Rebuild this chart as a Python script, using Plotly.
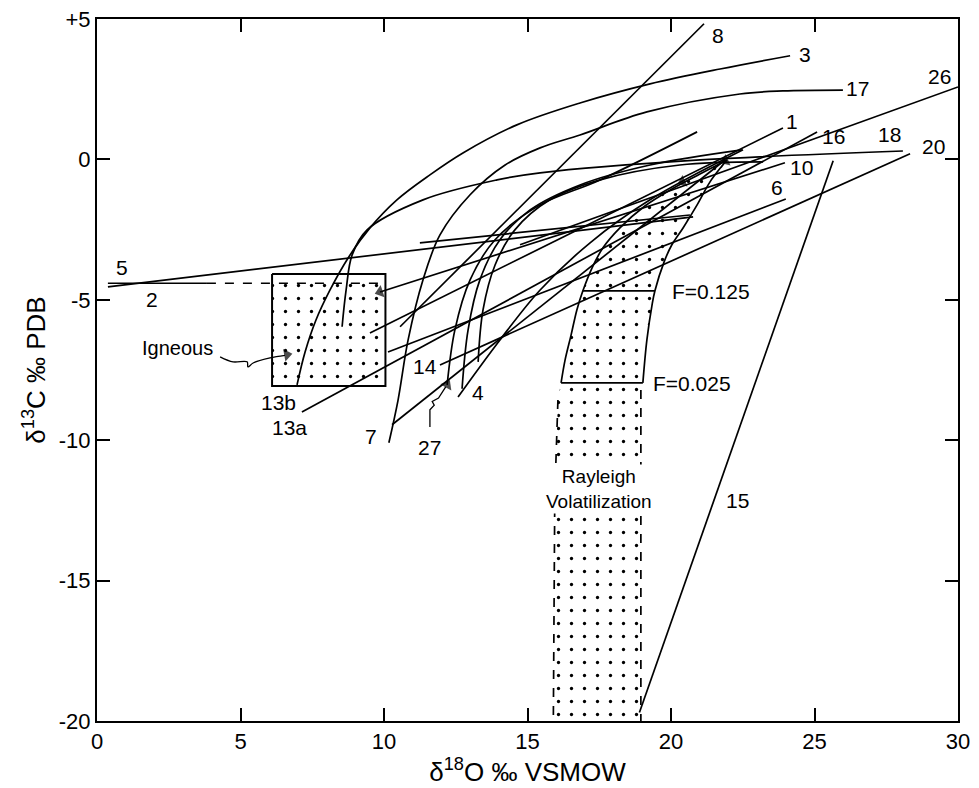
import plotly.graph_objects as go

# ---------------- data (delta-O18 vs delta-C13) ----------------
x_ticks = [0, 5, 10, 15, 20, 25, 30]
y_ticks = [5, 0, -5, -10, -15, -20]
y_ticklabels = ["+5", "0", "-5", "-10", "-15", "-20"]

# curved trends
line3_x = [6.97, 7.25, 7.63, 8.12, 8.75, 9.51, 10.45, 11.60, 12.75, 14.63, 16.83, 19.27, 21.71, 24.15]
line3_y = [-8.03, -6.86, -5.72, -4.65, -3.51, -2.44, -1.44, -0.55, 0.23, 1.23, 2.01, 2.69, 3.22, 3.69]
line18_x = [8.54, 8.68, 8.89, 9.41, 11.36, 13.94, 15.44, 21.01, 28.08]
line18_y = [-5.96, -4.65, -3.40, -2.51, -1.44, -0.73, -0.48, -0.02, 0.30]
line17_x = [10.17, 10.49, 10.84, 11.36, 11.95, 13.0, 14.22, 15.44, 16.83, 19.16, 22.40, 23.90, 25.99]
line17_y = [-10.09, -8.57, -6.43, -4.29, -2.69, -1.26, -0.2, 0.41, 0.87, 1.69, 2.33, 2.44, 2.47]
line4_x = [12.58, 14.04, 15.44, 17.18, 19.27, 22.51]
line4_y = [-8.46, -6.43, -4.65, -2.97, -1.44, 0.34]
line27_x = [12.2, 12.47, 13.0, 13.87, 15.44, 17.53, 20.91]
line27_y = [-8.03, -6.07, -4.29, -2.86, -1.62, -0.73, 0.98]
linev1_x = [12.72, 12.93, 13.34, 14.04, 15.09, 16.83, 19.27, 22.47]
linev1_y = [-8.17, -6.07, -4.29, -2.86, -1.80, -0.91, -0.20, 0.34]
linev2_x = [13.28, 13.45, 13.87, 14.56, 15.78, 17.53, 20.31, 23.21]
linev2_y = [-7.21, -5.36, -3.76, -2.51, -1.44, -0.73, -0.20, -0.09]

# straight trends
line8_x = [10.56, 21.15];  line8_y = [-5.96, 4.83]
line7_x = [10.28, 21.88];  line7_y = [-9.45, -0.02]
line13a_x = [7.14, 25.09]; line13a_y = [-9.0, 0.98]
line10_x = [23.97, 9.86];  line10_y = [-0.12, -4.72]
line5_x = [0.38, 20.77];   line5_y = [-4.54, -2.05]
line1_x = [9.51, 23.90];   line1_y = [-6.18, 1.12]
line20_x = [11.95, 28.33]; line20_y = [-7.32, 0.2]
line6_x = [10.14, 24.0];   line6_y = [-6.86, -1.41]
line26_x = [14.74, 30.0];  line26_y = [-3.04, 2.58]
lineh_x = [11.25, 20.66];  lineh_y = [-2.97, -1.98]
line15_x = [18.9, 25.65];  line15_y = [-19.7, -0.05]
line2_solid_x = [0.38, 3.83];  line2_solid_y = [-4.41, -4.41]
line2_dash_x = [3.83, 10.03];  line2_dash_y = [-4.41, -4.41]

# igneous box
igneous_x = [6.1, 10.05, 10.05, 6.1, 6.1]
igneous_y = [-4.08, -4.08, -8.07, -8.07, -4.08]

# Rayleigh volatilization band
band_left_x = [16.17, 16.31, 16.52, 16.72, 16.93, 17.25, 17.63, 18.22, 19.09, 19.97, 21.01, 21.95]
band_left_y = [-7.96, -7.14, -6.25, -5.36, -4.68, -3.86, -3.15, -2.44, -1.66, -1.09, -0.52, -0.02]
band_right_x = [19.02, 19.16, 19.34, 19.44, 19.76, 20.03, 20.42, 20.91, 21.36, 21.78, 21.95]
band_right_y = [-7.96, -6.43, -5.18, -4.68, -3.65, -3.04, -2.44, -1.62, -0.80, -0.23, -0.02]
band_left_dash_x = [16.06, 15.95, 15.9]
band_left_dash_y = [-8.57, -12.0, -20.0]
band_right_dash_x = [18.95, 18.95]
band_right_dash_y = [-8.21, -20.0]
f125_x = [16.93, 19.44]; f125_y = [-4.68, -4.68]
f025_x = [16.17, 19.02]; f025_y = [-7.96, -7.96]

# arrow paths
ign_arrow_x = [4.29, 4.74, 5.23, 5.26, 5.44, 6.03, 6.55]
ign_arrow_y = [-7.03, -7.21, -7.21, -7.39, -7.25, -7.07, -6.98]
a27_x = [11.6, 11.6, 11.75, 11.68, 11.9, 12.15]
a27_y = [-9.53, -8.92, -8.75, -8.62, -8.5, -8.1]

# arrowheads: (tail x, tail y, tip x, tip y)
arrowheads = [
    (10.86, -4.39, 9.86, -4.72),
    (6.03, -7.07, 6.62, -6.96),
    (12.05, -8.3, 12.2, -8.03),
    (22.6, 0.25, 21.9, -0.05),
    (21.2, -0.45, 20.4, -0.8),
]

# labels
label_text = ["8", "3", "17", "26", "1", "16", "18", "20", "10", "6", "15",
              "5", "2", "13b", "13a", "7", "14", "4", "27"]
label_x = [21.65, 24.67, 26.5, 29.34, 24.2, 25.65, 27.6, 29.13, 24.56, 23.7, 22.3,
           0.87, 1.92, 6.31, 6.72, 9.55, 11.43, 13.28, 11.6]
label_y = [4.43, 3.72, 2.51, 2.97, 1.34, 0.8, 0.87, 0.45, -0.3, -1.01, -12.13,
           -3.86, -5.0, -8.64, -9.53, -9.88, -7.39, -8.31, -10.27]

FONT = "Liberation Sans, Arial, Helvetica, sans-serif"

fig = go.Figure()

def add_line(x, y, dash="solid", shape="linear", width=1.7):
    fig.add_trace(go.Scatter(x=x, y=y, mode="lines",
                             line=dict(color="black", width=width, dash=dash, shape=shape),
                             showlegend=False, hoverinfo="skip"))

dots = dict(shape=".", fgcolor="black", fgopacity=1, bgcolor="white", size=13, solidity=0.05)

# band fill
band_fx = band_left_dash_x[::-1] + band_left_x + band_right_x[::-1] + band_right_dash_x
band_fy = band_left_dash_y[::-1] + band_left_y + band_right_y[::-1] + band_right_dash_y
fig.add_trace(go.Scatter(x=band_fx, y=band_fy, mode="lines", fill="toself",
                         fillcolor="white", fillpattern=dots,
                         line=dict(width=0, color="rgba(0,0,0,0)"),
                         showlegend=False, hoverinfo="skip"))
# igneous fill + outline
fig.add_trace(go.Scatter(x=igneous_x, y=igneous_y, mode="lines", fill="toself",
                         fillcolor="white", fillpattern=dots,
                         line=dict(width=2, color="black"),
                         showlegend=False, hoverinfo="skip"))

add_line(band_left_x, band_left_y, shape="spline")
add_line(band_right_x, band_right_y, shape="spline")
add_line(band_left_dash_x, band_left_dash_y, dash="dash")
add_line(band_right_dash_x, band_right_dash_y, dash="dash")
add_line(f125_x, f125_y)
add_line(f025_x, f025_y)

for xs, ys in [(line3_x, line3_y), (line18_x, line18_y), (line17_x, line17_y),
               (line4_x, line4_y), (line27_x, line27_y), (linev1_x, linev1_y),
               (linev2_x, linev2_y)]:
    add_line(xs, ys, shape="spline")

for xs, ys in [(line8_x, line8_y), (line7_x, line7_y), (line13a_x, line13a_y),
               (line10_x, line10_y), (line5_x, line5_y), (line1_x, line1_y),
               (line20_x, line20_y), (line6_x, line6_y), (line26_x, line26_y),
               (lineh_x, lineh_y), (line15_x, line15_y), (line2_solid_x, line2_solid_y)]:
    add_line(xs, ys)
add_line(line2_dash_x, line2_dash_y, dash="dash")

add_line(ign_arrow_x, ign_arrow_y, shape="spline", width=1.3)
add_line(a27_x, a27_y, width=1.3)

for tx, ty, hx, hy in arrowheads:
    fig.add_trace(go.Scatter(x=[tx, hx], y=[ty, hy], mode="markers",
                             marker=dict(symbol="triangle-up", size=[0, 11], color="black",
                                         angleref="previous", line=dict(width=0)),
                             showlegend=False, hoverinfo="skip"))

annotations = []
for t, x, y in zip(label_text, label_x, label_y):
    annotations.append(dict(x=x, y=y, xref="x", yref="y", text=t, showarrow=False,
                            font=dict(family=FONT, size=21, color="black")))
annotations += [
    dict(x=2.79, y=-6.7, xref="x", yref="y", text="Igneous", showarrow=False,
         font=dict(family=FONT, size=20, color="black")),
    dict(x=19.95, y=-4.72, xref="x", yref="y", text="F=0.125", showarrow=False, xanchor="left",
         font=dict(family=FONT, size=21, color="black")),
    dict(x=19.3, y=-7.98, xref="x", yref="y", text="F=0.025", showarrow=False, xanchor="left",
         font=dict(family=FONT, size=21, color="black")),
    dict(x=17.5, y=-11.75, xref="x", yref="y", text="Rayleigh<br>Volatilization", showarrow=False,
         bgcolor="white", font=dict(family=FONT, size=19, color="black")),
]

axis_common = dict(showline=True, linecolor="black", linewidth=2, mirror="allticks",
                   ticks="inside", ticklen=13, tickwidth=1.5, tickcolor="black",
                   showgrid=False, zeroline=False, automargin=False,
                   ticklabeloverflow="allow",
                   tickfont=dict(family=FONT, size=22, color="black"))

fig.update_layout(
    width=971, height=780,
    margin=dict(l=89, r=21, t=11, b=67),
    paper_bgcolor="white", plot_bgcolor="white",
    xaxis=dict(range=[0, 30], tickvals=x_ticks,
               title=dict(text="δ<sup>18</sup>O ‰ VSMOW", standoff=6,
                          font=dict(family=FONT, size=26, color="black")),
               **axis_common),
    yaxis=dict(range=[-20, 5], tickvals=y_ticks, ticktext=y_ticklabels,
               title=dict(text="δ<sup>13</sup>C ‰ PDB", standoff=6,
                          font=dict(family=FONT, size=26, color="black")),
               **axis_common),
    annotations=annotations,
)

fig.write_html("out.html")
